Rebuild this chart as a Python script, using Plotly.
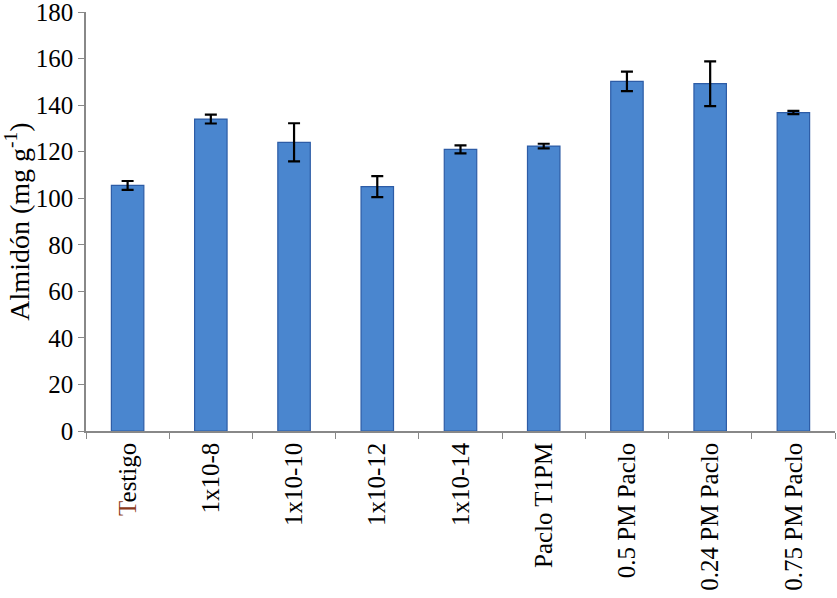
import plotly.graph_objects as go

categories = ["Testigo", "1x10-8", "1x10-10", "1x10-12", "1x10-14",
              "Paclo T1PM", "0.5 PM Paclo", "0.24 PM Paclo", "0.75 PM Paclo"]
values = [105.5, 134.0, 124.0, 105.0, 121.0, 122.4, 150.2, 149.2, 136.8]
errors = [1.9, 1.9, 8.2, 4.5, 1.7, 1.0, 4.2, 9.6, 0.7]
tick_labels = ["<span style='color:#8B3A1A'>T</span>estigo", "1x10-8", "1x10-10",
               "1x10-12", "1x10-14", "Paclo T1PM", "0.5 PM Paclo",
               "0.24 PM Paclo", "0.75 PM Paclo"]
y_ticks = [0, 20, 40, 60, 80, 100, 120, 140, 160, 180]

fig = go.Figure()
fig.add_trace(go.Bar(
    x=categories, y=values,
    marker=dict(color="#4A86CF", line=dict(color="#2D5CA6", width=1.2)),
    error_y=dict(type="data", array=errors, visible=True,
                 color="black", thickness=2.2, width=6),
    width=0.39,
))

font_family = "Liberation Serif"
fig.update_layout(
    width=837, height=598,
    margin=dict(l=86, r=2, t=12, b=167),
    paper_bgcolor="white", plot_bgcolor="white",
    showlegend=False,
    font=dict(family=font_family, color="black"),
    xaxis=dict(
        type="category", automargin=False,
        tickmode="array", tickvals=categories, ticktext=tick_labels,
        tickangle=-90, tickfont=dict(size=25, family=font_family, color="black"),
        showline=True, linecolor="#888888", linewidth=1.5,
        ticks="outside", ticklen=6, tickcolor="#888888", tickson="boundaries",
        showgrid=False, range=[-0.5, 8.5],
    ),
    yaxis=dict(
        range=[0, 180], automargin=False, ticklabeloverflow="allow",
        tickmode="array", tickvals=y_ticks, ticktext=[str(v) for v in y_ticks],
        tickfont=dict(size=25, family=font_family, color="black"),
        showline=True, linecolor="#888888", linewidth=1.5,
        ticks="outside", ticklen=6, tickcolor="#888888",
        showgrid=False, zeroline=False,
        title=dict(text="Almidón (mg g<sup>-1</sup>)",
                   font=dict(size=28, family=font_family, color="black"),
                   standoff=2),
    ),
)

fig.write_html("out.html", config={"displayModeBar": False},
               post_script="document.body.style.margin='0';document.body.style.padding='0';")
